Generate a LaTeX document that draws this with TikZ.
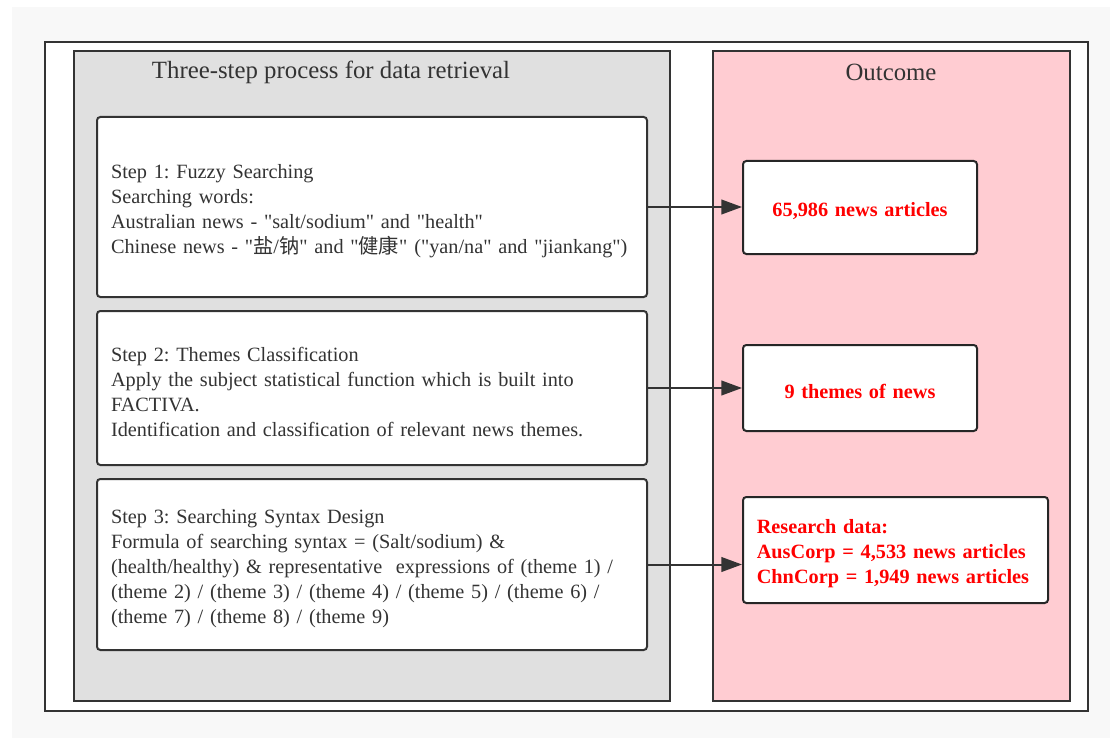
\documentclass[tikz,border=0pt]{standalone}
\usepackage{fontspec}
\setmainfont{Liberation Serif}[Ligatures=TeXOff]
\newfontfamily\cjk{Noto Sans CJK SC}
\usetikzlibrary{arrows.meta}
\frenchspacing
\definecolor{ink}{HTML}{333333}
\definecolor{panelgray}{HTML}{E0E0E0}
\definecolor{panelpink}{HTML}{FFCCD2}
\definecolor{pagegray}{HTML}{F8F8F8}
\tikzset{
  panel/.style={draw=ink, line width=1.5pt},
  % a tall strut on the first line sets the text a little below centre
  lowered/.style={execute at begin node={\rule{0pt}{#1}}},
  stepbox/.style={draw=ink, fill=white, line width=1.5pt, rounded corners=2.5pt,
    minimum width=412.5pt, text width=391.5pt, inner xsep=10.5pt, align=left,
    font=\fontsize{15.2}{18.75}\selectfont, text=ink, lowered=16.5pt},
  outbox/.style={draw=black!85, fill=white, line width=1.5pt, rounded corners=2.5pt,
    text=red, font=\fontsize{15.2}{18.75}\selectfont\bfseries, lowered=15.5pt},
  paneltitle/.style={text=ink, font=\fontsize{18.6}{22}\selectfont},
  link/.style={draw=ink, line width=1.5pt, -{Triangle[length=15.5pt,width=11pt]}}
}
\begin{document}
\begin{tikzpicture}[x=0.75pt, y=-0.75pt]
  % page and frame
  \fill[white] (0,0) rectangle (1110,738);
  \fill[pagegray] (12,7) rectangle (1110,738);
  \draw[draw=ink, fill=white, line width=1.5pt] (45,42) rectangle (1088,711);
  % the two panels
  \draw[panel, fill=panelgray] (74,51) rectangle (670,701);
  \draw[panel, fill=panelpink] (713,51) rectangle (1070,701);
  \node[paneltitle] (t1) at (331,72) {Three-step process for data retrieval};
  \node[paneltitle] (t2) at (891,72) {Outcome};
  % steps
  \node[stepbox, minimum height=135pt] (s1) at (372,207)
    {Step 1: Fuzzy Searching\\
     Searching words:\\
     Australian news - "salt/sodium" and "health"\\
     Chinese news - "{\cjk 盐}/{\cjk 钠}" and "{\cjk 健康}" ("yan/na" and "jiankang")};
  \node[stepbox, minimum height=115.5pt] (s2) at (372,388)
    {Step 2: Themes Classification\\
     Apply the subject statistical function which is built into\\
     FACTIVA.\\
     Identification and classification of relevant news themes.};
  \node[stepbox, minimum height=128.25pt] (s3) at (372,564.5)
    {Step 3: Searching Syntax Design\\
     Formula of searching syntax = (Salt/sodium) \&\\
     (health/healthy) \& representative\ \ expressions of (theme 1) /\\
     (theme 2) / (theme 3) / (theme 4) / (theme 5) / (theme 6) /\\
     (theme 7) / (theme 8) / (theme 9)};
  % outcomes
  \node[outbox, minimum width=175.5pt, minimum height=69.75pt, text width=160pt,
    inner xsep=7.75pt, align=center] (o1) at (860,207.5)
    {65,986 news articles};
  \node[outbox, minimum width=175.5pt, minimum height=64.5pt, text width=160pt,
    inner xsep=7.75pt, align=center] (o2) at (860,388)
    {9 themes of news};
  \node[outbox, minimum width=228.75pt, minimum height=79.5pt, text width=208pt,
    inner xsep=10.375pt, align=left] (o3) at (895.5,550)
    {Research data:\\
     AusCorp = 4,533 news articles\\
     ChnCorp = 1,949 news articles};
  % connectors
  \draw[link] (s1.east) -- (s1.east -| o1.west);
  \draw[link] (s2.east) -- (s2.east -| o2.west);
  \draw[link] (s3.east) -- (s3.east -| o3.west);
\end{tikzpicture}
\end{document}
